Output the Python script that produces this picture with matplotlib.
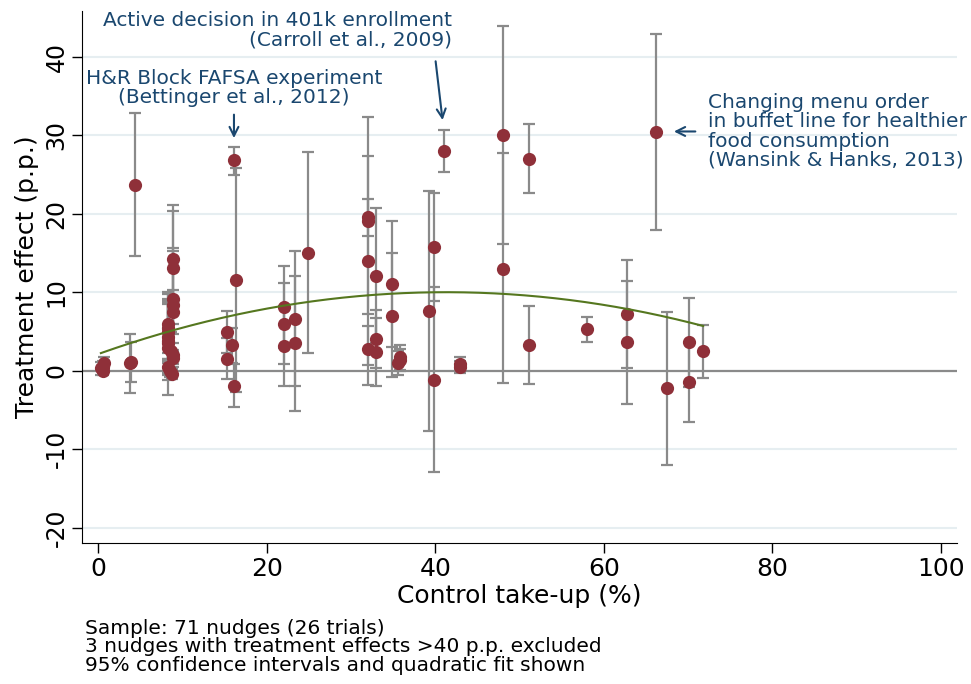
#!/usr/bin/env python3
# -*- coding: utf-8 -*-

import numpy as np
import matplotlib
matplotlib.use("Agg")
import matplotlib.pyplot as plt

# Контрольный охват (%), эффект (п.п.) и границы 95% ДИ
control = [0.3, 0.5, 0.7, 0.6, 3.8, 3.9, 4.3,
           8.9, 8.9, 8.9, 8.9, 8.9, 8.3, 8.3, 8.3, 8.3, 8.3, 8.3, 8.3,
           8.9, 8.9, 8.3, 8.5, 8.7, 8.6,
           15.3, 15.9, 15.3, 16.1, 16.1, 16.4,
           22.0, 22.0, 22.0, 23.4, 23.4, 24.9,
           32.0, 32.0, 32.0, 32.0, 33.0, 33.0, 33.0, 34.9, 34.9,
           35.8, 35.8, 35.6, 39.3, 39.9, 39.9, 41.0, 42.9, 42.9,
           48.0, 48.0, 51.1, 51.1, 58.0, 62.8, 62.8, 66.2, 67.5,
           70.1, 70.1, 71.8]
effect = [0.3, 0.0, 1.0, 0.5, 1.0, 1.1, 23.7,
          14.3, 13.1, 9.1, 8.4, 7.5, 6.0, 5.5, 5.0, 4.3, 3.8, 3.5, 2.9,
          2.0, 1.6, 0.5, 0.0, -0.4, 2.5,
          5.0, 3.3, 1.5, -1.9, 26.8, 11.6,
          8.1, 6.0, 3.1, 6.6, 3.5, 15.0,
          19.6, 19.1, 14.0, 2.8, 12.1, 4.1, 2.4, 11.0, 7.0,
          1.8, 1.4, 1.0, 7.6, 15.8, -1.2, 28.0, 0.9, 0.5,
          30.1, 13.0, 27.0, 3.3, 5.3, 7.2, 3.7, 30.4, -2.2,
          3.6, -1.5, 2.5]
ci_low = [-0.5, -0.6, 0.2, -0.3, -2.8, -1.5, 14.6,
          7.5, 5.9, 2.6, 1.6, 4.7, 2.2, 1.0, 1.5, -0.5, -1.2, 1.5, -3.1,
          0.5, 0.8, -0.3, -0.8, -1.0, 0.0,
          2.3, 1.0, -1.1, -4.6, 25.0, -2.7,
          2.9, 0.85, -2.0, -2.0, -5.1, 2.2,
          7.2, 17.2, 0.7, -1.8, 3.5, 0.4, -1.9, 3.0, -0.8,
          0.1, 0.0, -0.5, -7.7, 8.9, -12.9, 25.3, 0.1, -0.3,
          16.2, -1.6, 22.6, -1.7, 3.7, 0.3, -4.2, 18.0, -12.0,
          -2.1, -6.6, -0.9]
ci_high = [1.1, 0.6, 1.8, 1.3, 4.7, 3.7, 32.9,
           21.1, 20.3, 15.6, 15.2, 10.3, 9.8, 10.0, 8.5, 9.1, 8.8, 5.5, 8.9,
           3.5, 2.4, 1.3, 0.8, 0.2, 5.0,
           7.6, 5.4, 4.2, 0.8, 28.5, 25.9,
           13.3, 11.2, 8.2, 15.3, 12.1, 27.9,
           32.4, 21.9, 27.4, 5.7, 20.7, 7.7, 6.7, 19.1, 15.0,
           3.3, 2.8, 2.5, 22.9, 22.7, 10.7, 30.7, 1.7, 1.3,
           43.9, 27.7, 31.5, 8.2, 6.9, 14.1, 11.5, 42.9, 7.5,
           9.3, 3.6, 5.8]

x_ticks = [0, 20, 40, 60, 80, 100]
y_ticks = [-20, -10, 0, 10, 20, 30, 40]

notes = ["Sample: 71 nudges (26 trials)",
         "3 nudges with treatment effects >40 p.p. excluded",
         "95% confidence intervals and quadratic fit shown"]

navy = "#1a476f"
gray = "#8a8a8a"

plt.rcParams["axes.unicode_minus"] = False

fig = plt.figure(figsize=(9.71, 6.84), dpi=100)
ax = fig.add_axes([0.0848, 0.2057, 0.9005, 0.7787])

x = np.array(control)
y = np.array(effect)
lo = y - np.array(ci_low)
hi = np.array(ci_high) - y

for t in y_ticks:
    ax.axhline(t, color="#e6eef1", lw=1.5, zorder=0)
ax.axhline(0, color=gray, lw=1.6, zorder=1)

ax.errorbar(x, y, yerr=[lo, hi], fmt="none", ecolor=gray,
            elinewidth=1.6, capsize=4.5, capthick=1.6, zorder=2)
ax.plot(x, y, "o", color="#8f3039", markersize=9.5, mec="none", zorder=3)

# квадратичная аппроксимация
coef = np.polyfit(x, y, 2)
xs = np.linspace(x.min(), x.max(), 200)
ax.plot(xs, np.polyval(coef, xs), color="#55771f", lw=1.5, zorder=4)

ax.set_xlim(-1.9, 101.9)
ax.set_ylim(-22.0, 45.9)
ax.set_xticks(x_ticks)
ax.set_yticks(y_ticks)
ax.tick_params(axis="x", labelsize=18, length=7, width=1, pad=3)
ax.tick_params(axis="y", labelsize=17, length=7, width=1, pad=3)
for lab in ax.get_yticklabels():
    lab.set_rotation(90)
    lab.set_va("center")
ax.spines["top"].set_visible(False)
ax.spines["right"].set_visible(False)
ax.set_xlabel("Control take-up (%)", fontsize=18, labelpad=2)
ax.set_ylabel("Treatment effect (p.p.)", fontsize=18, labelpad=4)

# подписи и стрелки
arrow = dict(arrowstyle="->", color=navy, lw=1.5, mutation_scale=16)
ax.text(42.0, 43.4, "Active decision in 401k enrollment\n(Carroll et al., 2009)",
        ha="right", va="center", color=navy, fontsize=14.5, linespacing=1.07)
ax.annotate("", xy=(40.9, 31.6), xytext=(40.0, 39.8), arrowprops=arrow)
ax.text(16.1, 36.0, "H&R Block FAFSA experiment\n(Bettinger et al., 2012)",
        ha="center", va="center", color=navy, fontsize=14.5, linespacing=1.02)
ax.annotate("", xy=(16.1, 29.3), xytext=(16.1, 33.0), arrowprops=arrow)
ax.text(72.4, 30.5, "Changing menu order\nin buffet line for healthier\n"
        "food consumption\n(Wansink & Hanks, 2013)",
        ha="left", va="center", color=navy, fontsize=14.5, linespacing=1.02)
ax.annotate("", xy=(68.0, 30.5), xytext=(71.2, 30.5), arrowprops=arrow)

fig.text(0.0875, 1 - 647 / 684, "\n".join(notes), ha="left", va="center",
         fontsize=14.5, linespacing=0.98)

fig.savefig("out.png", dpi=100)
